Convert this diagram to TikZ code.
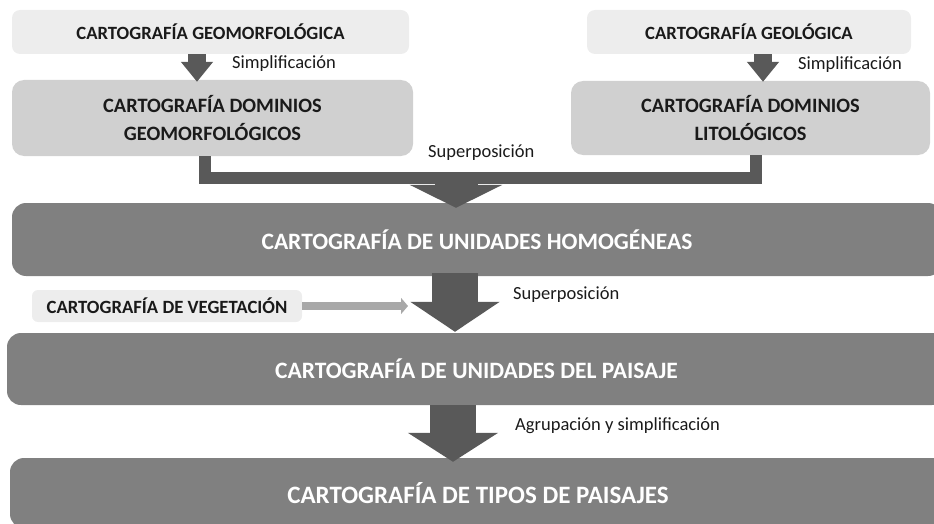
\documentclass[tikz,border=0pt]{standalone}
\usepackage{fontspec}
\setmainfont{Carlito}
\usetikzlibrary{arrows.meta}

\definecolor{boxlight}{HTML}{EDEDED}
\definecolor{boxmid}{HTML}{D0D0D0}
\definecolor{boxdark}{HTML}{808080}
\definecolor{boxtext}{HTML}{1A1A1A}
\definecolor{arrowdark}{HTML}{595959}
\definecolor{arrowlight}{HTML}{A8A8A8}

\begin{document}
\begin{tikzpicture}[x=1pt, y=-1pt,
  light/.style={fill=boxlight, rounded corners=8pt, inner sep=0pt, text=boxtext,
    font=\bfseries\fontsize{18.7}{22}\selectfont},
  mid/.style={fill=boxmid, rounded corners=12pt, inner sep=0pt, text=boxtext, align=center,
    font=\bfseries\fontsize{20.4}{28}\selectfont},
  dark/.style={fill=boxdark, rounded corners=14pt, inner sep=0pt, text=white,
    font=\bfseries\fontsize{23.5}{26}\selectfont},
  lbl/.style={anchor=west, inner sep=0pt, text=boxtext, font=\fontsize{18.5}{22}\selectfont},
  blk/.style={draw=arrowdark, line width=#1}]
\clip (0,0) rectangle (934,524);

% sources
\node[light, minimum width=397pt, minimum height=44pt] (geom) at (210.5,32) {CARTOGRAFÍA GEOMORFOLÓGICA};
\node[light, minimum width=324pt, minimum height=44pt] (geol) at (749,32) {CARTOGRAFÍA GEOLÓGICA};
\node[mid, minimum width=401pt, minimum height=76pt] (dgeo) at (212.5,118) {CARTOGRAFÍA DOMINIOS\\GEOMORFOLÓGICOS};
\node[mid, minimum width=359pt, minimum height=74pt] (dlit) at (750.5,118) {CARTOGRAFÍA DOMINIOS\\LITOLÓGICOS};

% results
\node[dark, minimum width=930pt, minimum height=73pt] (homo) at (477,239.5) {CARTOGRAFÍA DE UNIDADES HOMOGÉNEAS};
\node[light, rounded corners=6pt, minimum width=270pt, minimum height=32pt] (veg) at (167,306) {CARTOGRAFÍA DE VEGETACIÓN};
\node[dark, minimum width=939pt, minimum height=72pt] (pais) at (476.5,369) {CARTOGRAFÍA DE UNIDADES DEL PAISAJE};
\node[dark, minimum width=936pt, minimum height=70pt, font=\bfseries\fontsize{25}{28}\selectfont] (tipo) at (478,493) {CARTOGRAFÍA DE TIPOS DE PAISAJES};

% arrows
\draw[blk=18pt, -{Triangle[length=20pt, width=31pt]}] ([xshift=-13.5pt]geom.south) -- ([xshift=-13.5pt, yshift=-2pt]geom.south |- dgeo.north);
\draw[blk=18pt, -{Triangle[length=20pt, width=31pt]}] ([xshift=14pt]geol.south) -- ([xshift=14pt, yshift=-1pt]geol.south |- dlit.north);
\draw[blk=12pt] ([xshift=-8pt]dgeo.south) -- (204.5,178) -- (756,178) -- ([xshift=5.5pt]dlit.south);
\coordinate (join) at (456,172);
\draw[blk=43pt, -{Triangle[length=23pt, width=92pt]}] (join) -- ([yshift=-5pt]join |- homo.north);
\draw[blk=46pt, -{Triangle[length=30pt, width=88pt]}] ([xshift=-22pt, yshift=3pt]homo.south) -- ([xshift=-22pt, yshift=1pt]homo.south |- pais.north);
\draw[draw=arrowlight, line width=8pt, -{Triangle[length=7pt, width=16pt]}] (veg.east) -- (408,306);
\draw[blk=46pt, -{Triangle[length=29pt, width=89pt]}] ([xshift=-23.5pt]pais.south) -- ([xshift=-23.5pt, yshift=-4pt]pais.south |- tipo.north);

% labels
\node[lbl] (s1) at (232,64) {Simplificación};
\node[lbl] (s2) at (798,65) {Simplificación};
\node[lbl] (p1) at (428,153) {Superposición};
\node[lbl] (p2) at (513,295) {Superposición};
\node[lbl] (ag) at (515,426) {Agrupación y simplificación};
\end{tikzpicture}
\end{document}
